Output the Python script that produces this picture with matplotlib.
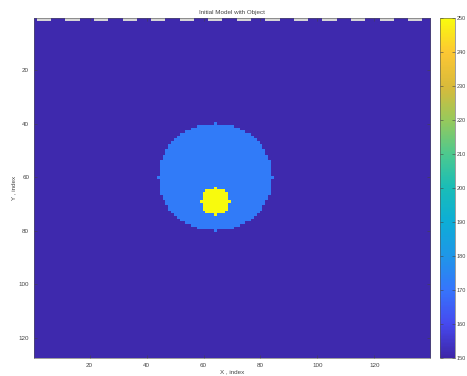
import numpy as np
import matplotlib
matplotlib.use('Agg')
import matplotlib.pyplot as plt
from matplotlib.colors import LinearSegmentedColormap

# model values
nx = 139
ny = 127
background_val = 151.0
circle_val = 172.0
object_val = 250.0
circle_center = (64, 60)
circle_radius = 20
object_center = (64, 69)
object_radius = 5
# grey dashes along the first row: (start column, length)
dash_starts = [2, 12, 22, 32, 42, 52, 62, 72, 82, 92, 102, 112, 122, 132]
dash_len = 5

x_ticks = [20, 40, 60, 80, 100, 120]
y_ticks = [20, 40, 60, 80, 100, 120]
cbar_ticks = [150, 160, 170, 180, 190, 200, 210, 220, 230, 240, 250]

# parula-like colormap
parula_pts = [
    (0.242, 0.150, 0.660),
    (0.275, 0.290, 0.940),
    (0.210, 0.460, 0.990),
    (0.120, 0.590, 0.910),
    (0.050, 0.680, 0.840),
    (0.100, 0.740, 0.720),
    (0.300, 0.790, 0.560),
    (0.590, 0.790, 0.360),
    (0.850, 0.730, 0.230),
    (0.990, 0.780, 0.200),
    (0.976, 0.983, 0.054),
]
parula = LinearSegmentedColormap.from_list('parula', parula_pts, N=256)
parula.set_bad('#d6d6d6')

# build the model grid
X, Y = np.meshgrid(np.arange(1, nx + 1), np.arange(1, ny + 1))
model = np.full((ny, nx), background_val)
model[(X - circle_center[0])**2 + (Y - circle_center[1])**2 <= circle_radius**2] = circle_val
model[(X - object_center[0])**2 + (Y - object_center[1])**2 <= object_radius**2] = object_val

mask = np.zeros_like(model, dtype=bool)
for s in dash_starts:
    mask[0, s - 1:s - 1 + dash_len] = True
model = np.ma.masked_array(model, mask=mask)

plt.rcParams['font.family'] = ['Liberation Sans', 'DejaVu Sans']
fig = plt.figure(figsize=(4.67, 3.76), dpi=100)
ax = fig.add_axes([0.0728, 0.0487, 0.848, 0.9026])
im = ax.imshow(model, cmap=parula, vmin=150, vmax=250, aspect='auto',
               interpolation='nearest',
               extent=[0.5, nx + 0.5, ny + 0.5, 0.5])
ax.set_xticks(x_ticks)
ax.set_yticks(y_ticks)
ax.tick_params(direction='in', labelsize=4.5, length=2, width=0.4,
               colors='#444444', top=True, right=True)
ax.tick_params(labeltop=False, labelright=False)
for sp in ax.spines.values():
    sp.set_linewidth(0.4)
    sp.set_color('#555555')
ax.set_title('Initial Model with Object', fontsize=4.5, pad=3, color='#444444')
ax.set_xlabel('X , index', fontsize=4.5, labelpad=1, color='#444444')
ax.set_ylabel('Y , index', fontsize=4.5, labelpad=2, color='#444444')

cax = fig.add_axes([0.942, 0.0487, 0.032, 0.9026])
cb = fig.colorbar(im, cax=cax, ticks=cbar_ticks)
cb.ax.tick_params(direction='in', labelsize=4, length=2, width=0.4,
                  colors='#444444', left=True, pad=1)
cb.outline.set_linewidth(0.4)
cb.outline.set_edgecolor('#555555')

fig.savefig('out.png', dpi=100)
